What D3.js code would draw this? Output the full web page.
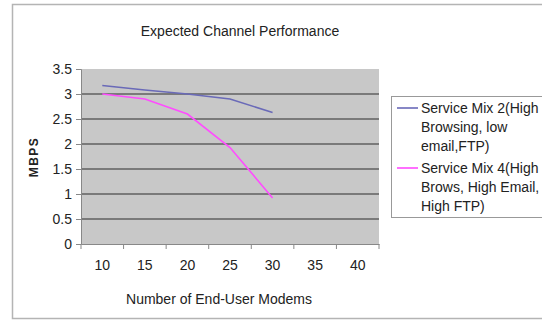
<!DOCTYPE html>
<html>
<head>
<meta charset="utf-8">
<script src="https://cdn.jsdelivr.net/npm/d3@7"></script>
<style>
  html, body { margin: 0; padding: 0; background: #fff; }
  svg { display: block; font-family: Arial, "Liberation Sans", sans-serif; }
</style>
</head>
<body>
<div id="chart"></div>
<script>
// 数据
const categories = ['10', '15', '20', '25', '30', '35', '40'];
const mix2Values = [3.17, 3.08, 3.0, 2.9, 2.63];
const mix4Values = [3.0, 2.9, 2.6, 1.93, 0.92];
const yTicks = [0, 0.5, 1, 1.5, 2, 2.5, 3, 3.5];
const seriesNames = [
    ['Service Mix 2(High', 'Browsing, low', 'email,FTP)'],
    ['Service Mix 4(High', 'Brows, High Email,', 'High FTP)']
];
const seriesColors = ['#6a6ab8', '#ff4cff'];

const width = 542, height = 320;
const svg = d3.select('#chart').append('svg')
    .attr('width', width)
    .attr('height', height);

// 外框
svg.append('rect')
    .attr('x', 12.5).attr('y', 4.5)
    .attr('width', 540).attr('height', 314)
    .attr('fill', '#fff')
    .attr('stroke', '#b4b4b4')
    .attr('stroke-width', 1.5);

const plot = { left: 81, right: 379, top: 69, bottom: 244 };

const x = d3.scaleBand()
    .domain(categories)
    .range([plot.left, plot.right]);

const y = d3.scaleLinear()
    .domain([0, 3.5])
    .range([plot.bottom, plot.top]);

// 绘图区背景
svg.append('rect')
    .attr('x', plot.left).attr('y', plot.top)
    .attr('width', plot.right - plot.left)
    .attr('height', plot.bottom - plot.top)
    .attr('fill', '#c8c8c8');

// 网格线
svg.append('g')
    .selectAll('line')
    .data(yTicks.filter(d => d > 0 && d < 3.5))
    .enter().append('line')
    .attr('x1', plot.left).attr('x2', plot.right)
    .attr('y1', d => y(d)).attr('y2', d => y(d))
    .attr('stroke', '#7a7a7a')
    .attr('stroke-width', 2);

// Y轴
const yAxis = svg.append('g')
    .attr('transform', `translate(${plot.left},0)`)
    .call(d3.axisLeft(y).tickValues(yTicks).tickSize(5).tickPadding(4).tickFormat(d3.format('')));
yAxis.select('.domain').attr('stroke', '#888');
yAxis.selectAll('.tick line').attr('stroke', '#888');
yAxis.selectAll('text').attr('font-size', 14).attr('fill', '#222');

// X轴
const xAxis = svg.append('g')
    .attr('transform', `translate(0,${plot.bottom})`)
    .call(d3.axisBottom(x).tickSize(0).tickPadding(16));
xAxis.select('.domain').attr('stroke', '#888');
xAxis.selectAll('text').attr('font-size', 14).attr('fill', '#222');

// X轴刻度线（类别边界）
svg.append('g')
    .selectAll('line')
    .data(categories.concat(['end']))
    .enter().append('line')
    .attr('x1', (d, i) => plot.left + i * x.bandwidth())
    .attr('x2', (d, i) => plot.left + i * x.bandwidth())
    .attr('y1', plot.bottom)
    .attr('y2', plot.bottom + 5)
    .attr('stroke', '#888');

// 折线
const line = d3.line()
    .x((d, i) => x(categories[i]) + x.bandwidth() / 2)
    .y(d => y(d));

[mix2Values, mix4Values].forEach((vals, i) => {
    svg.append('path')
        .datum(vals)
        .attr('d', line)
        .attr('fill', 'none')
        .attr('stroke', seriesColors[i])
        .attr('stroke-width', 1.6);
});

// 标题
svg.append('text')
    .attr('x', 240).attr('y', 36)
    .attr('text-anchor', 'middle')
    .attr('font-size', 14)
    .attr('fill', '#222')
    .text('Expected Channel Performance');

svg.append('text')
    .attr('x', 219).attr('y', 304)
    .attr('text-anchor', 'middle')
    .attr('font-size', 14)
    .attr('fill', '#222')
    .text('Number of End-User Modems');

svg.append('text')
    .attr('transform', 'translate(38,157) rotate(-90)')
    .attr('text-anchor', 'middle')
    .attr('font-size', 12)
    .attr('font-weight', 'bold')
    .attr('letter-spacing', 1.5)
    .attr('fill', '#222')
    .text('MBPS');

// 图例
const legend = svg.append('g');
legend.append('rect')
    .attr('x', 391.5).attr('y', 96.5)
    .attr('width', 160).attr('height', 121)
    .attr('fill', '#fff')
    .attr('stroke', '#999');

seriesNames.forEach((lines, i) => {
    const top = 113 + i * 60;
    legend.append('line')
        .attr('x1', 397).attr('x2', 418)
        .attr('y1', top - 5).attr('y2', top - 5)
        .attr('stroke', seriesColors[i])
        .attr('stroke-width', 1.6);
    lines.forEach((t, j) => {
        legend.append('text')
            .attr('x', 421)
            .attr('y', top + j * 19)
            .attr('font-size', 14)
            .attr('fill', '#222')
            .text(t);
    });
});
</script>
</body>
</html>
